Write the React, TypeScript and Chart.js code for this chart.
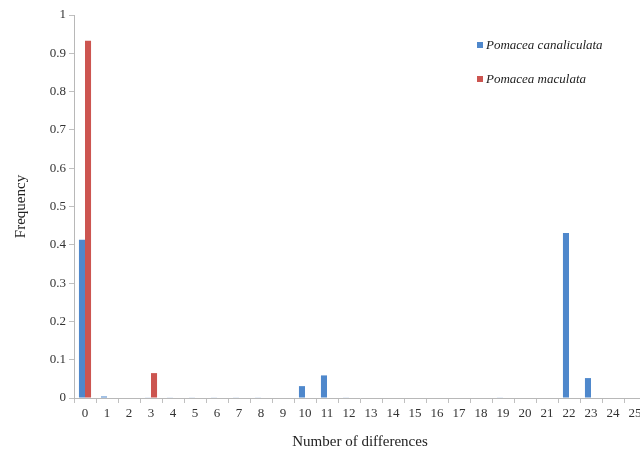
import React, { useEffect, useRef } from "react";
import { Chart, registerables } from "chart.js";

Chart.register(...registerables);

const categories = ["0","1","2","3","4","5","6","7","8","9","10","11","12","13","14","15","16","17","18","19","20","21","22","23","24","25"];
const canaliculata = [0.413,0.004,0,0.001,0.001,0.001,0.001,0.001,0.001,0,0.031,0.059,0.001,0,0,0,0,0,0,0.001,0,0,0.431,0.052,0,0];
const maculata = [0.933,0,0,0.065,0,0,0,0,0,0,0,0,0,0,0,0,0,0,0,0,0,0,0,0,0,0];
const seriesNames = ["Pomacea canaliculata", "Pomacea maculata"];
const yTicks = [0,0.1,0.2,0.3,0.4,0.5,0.6,0.7,0.8,0.9,1];

const BLUE = "#4f88cc";
const RED = "#cc5550";
const SERIF = "'Liberation Serif', 'Times New Roman', serif";

const legendPlugin = {
  id: "customLegend",
  afterDraw(chart: any) {
    const ctx = chart.ctx;
    ctx.save();
    chart.data.datasets.forEach((ds: any, i: number) => {
      const y = 46 + i * 34;
      ctx.fillStyle = ds.backgroundColor;
      ctx.fillRect(477, y - 4, 6, 6);
      ctx.fillStyle = "#222";
      ctx.font = `italic 13px ${SERIF}`;
      ctx.textBaseline = "middle";
      ctx.textAlign = "left";
      ctx.fillText(ds.label, 486, y);
    });
    ctx.restore();
  },
};

export default function App() {
  const ref = useRef<HTMLCanvasElement>(null);
  useEffect(() => {
    if (!ref.current) return;
    const chart = new Chart(ref.current, {
      type: "bar",
      data: {
        labels: categories,
        datasets: [
          { label: seriesNames[0], data: canaliculata, backgroundColor: BLUE },
          { label: seriesNames[1], data: maculata, backgroundColor: RED },
        ],
      },
      options: {
        responsive: false,
        animation: false,
        layout: { padding: { top: 15, right: 6, left: 0, bottom: 0 } },
        plugins: { legend: { display: false }, tooltip: { enabled: false } },
        datasets: { bar: { barPercentage: 1, categoryPercentage: 0.55 } },
        scales: {
          x: {
            grid: { display: true, drawOnChartArea: false, drawTicks: true, tickLength: 5, color: "#c0c0c0", offset: true },
            border: { display: true, color: "#b8b8b8" },
            ticks: { color: "#333", font: { family: SERIF, size: 13 }, padding: 3, maxRotation: 0, autoSkip: false },
            title: { display: true, text: "Number of differences", color: "#222", font: { family: SERIF, size: 15 }, padding: { top: 9, bottom: 5 } },
            afterFit: (s: any) => { s.height = 58; },
          },
          y: {
            min: 0,
            max: 1,
            afterBuildTicks: (s: any) => { s.ticks = yTicks.map((v) => ({ value: v })); },
            grid: { display: true, drawOnChartArea: false, drawTicks: true, tickLength: 5, color: "#c0c0c0" },
            border: { display: true, color: "#b8b8b8" },
            ticks: { color: "#333", font: { family: SERIF, size: 13 }, padding: 3, callback: (v: any) => String(Math.round(Number(v) * 10) / 10) },
            title: { display: true, text: "Frequency", color: "#222", font: { family: SERIF, size: 15 }, padding: { top: 12, bottom: 6 } },
            afterFit: (s: any) => { s.width = 74; },
          },
        },
      },
      plugins: [legendPlugin],
    } as any);
    return () => chart.destroy();
  }, []);
  return (
    <div style={{ position: "fixed", left: 0, top: 0, width: 640, height: 456, overflow: "hidden", background: "#fff" }}>
      <canvas ref={ref} width={652} height={456} style={{ width: 652, height: 456, display: "block" }} />
    </div>
  );
}
